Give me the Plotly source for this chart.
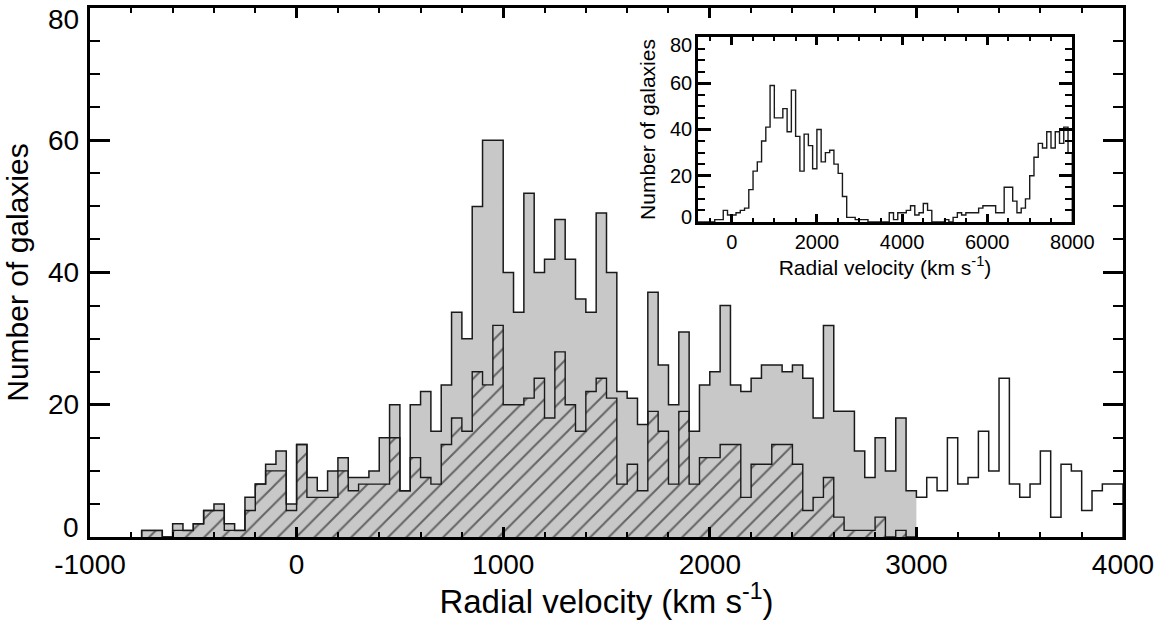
import plotly.graph_objects as go

# ---------------- data ----------------
main_start = -750      # left edge of first main bin (km/s)
main_width = 50        # main bin width (km/s)
total_counts = [1, 1, 0, 2, 1, 2, 4, 5, 2, 1,
                6, 8, 11, 13, 5, 14, 9, 7, 10, 12,
                9, 9, 10, 15, 20, 7, 20, 22, 16, 23,
                34, 30, 50, 60, 60, 40, 34, 52, 40, 42,
                48, 42, 36, 34, 49, 40, 22, 21, 17, 37,
                26, 20, 31, 16, 23, 25, 35, 23, 22, 24,
                26, 26, 25, 26, 24, 18, 32, 19, 19, 13,
                9, 15, 10, 18, 7, 6, 9, 7, 15, 8,
                9, 16, 10, 24, 8, 6, 8, 13, 3, 11,
                10, 4, 7, 8, 8]
gray_limit = 3000      # grey-filled part ends here
hatched_counts = [1, 1, 0, 1, 1, 2, 4, 4, 1, 1,
                  4, 8, 10, 10, 4, 14, 6, 6, 6, 10,
                  7, 8, 8, 8, 15, 7, 12, 9, 8, 14,
                  18, 16, 25, 23, 32, 20, 20, 21, 24, 18,
                  28, 20, 16, 22, 24, 21, 8, 11, 7, 19,
                  16, 8, 19, 8, 12, 12, 14, 14, 6, 11,
                  11, 14, 14, 11, 4, 6, 9, 3, 1, 1,
                  1, 3, 0, 1, 0]

inset_start = -800
inset_width = 100
inset_counts = [0, 0, 0, 0, 1, 1, 5, 3, 3, 4,
                5, 6, 14, 22, 26, 35, 41, 59, 45, 45,
                49, 39, 57, 37, 22, 38, 33, 23, 40, 26,
                30, 31, 25, 21, 11, 2, 2, 1, 1, 1,
                0, 0, 0, 0, 0, 4, 1, 4, 4, 5,
                7, 3, 4, 8, 5, 0, 0, 0, 1, 0,
                2, 4, 3, 4, 4, 4, 6, 7, 7, 7,
                4, 4, 15, 15, 9, 4, 6, 10, 20, 28,
                34, 32, 39, 32, 39, 34, 41, 30]

main_xticks = [-1000, 0, 1000, 2000, 3000, 4000]
main_xticktext = ["-1000", "0", "1000", "2000", "3000", "4000"]
main_yticks = [0, 20, 40, 60, 80]
inset_xticks = [0, 2000, 4000, 6000, 8000]
inset_xticktext = ["0", "2000", "4000", "6000", "8000"]
inset_yticks = [0, 20, 40, 60, 80]

x_title = "Radial velocity (km s<sup>-1</sup>)"
y_title = "Number of galaxies"


def step_xy(start, width, counts):
    edges = [start + i * width for i in range(len(counts) + 1)]
    xs = [edges[0]] + edges[1:] + [edges[-1]]
    ys = [0] + list(counts) + [0]
    return xs, ys


n_gray = int((gray_limit - main_start) / main_width)
gx, gy = step_xy(main_start, main_width, total_counts[:n_gray])
hx, hy = step_xy(main_start, main_width, hatched_counts)
tx, ty = step_xy(main_start, main_width, total_counts)
ix, iy = step_xy(inset_start, inset_width, inset_counts)

GRAY = "#c8c8c8"
LINE = "#1a1a1a"
FONT = "Liberation Sans, Arial, Helvetica, sans-serif"

INSET_X = [0.5883, 0.9509]
INSET_Y = [0.5955, 0.9452]

fig = go.Figure()
fig.add_trace(go.Scatter(x=gx, y=gy, mode="lines", line=dict(shape="vh", width=0),
                         fill="tozeroy", fillcolor=GRAY, hoverinfo="skip"))
fig.add_trace(go.Scatter(x=hx, y=hy, mode="lines", line=dict(shape="vh", width=1.4, color=LINE),
                         fill="tozeroy", fillcolor=GRAY,
                         fillpattern=dict(shape="/", size=13, solidity=0.15,
                                          fgcolor="black", bgcolor=GRAY),
                         hoverinfo="skip"))
fig.add_trace(go.Scatter(x=tx, y=ty, mode="lines", line=dict(shape="vh", width=1.5, color=LINE),
                         hoverinfo="skip"))
fig.add_trace(go.Scatter(x=ix, y=iy, mode="lines", line=dict(shape="vh", width=1.4, color=LINE),
                         xaxis="x2", yaxis="y2", hoverinfo="skip"))

axis_common = dict(showline=True, linecolor="black", linewidth=3, mirror="allticks",
                   ticks="inside", tickcolor="black", showgrid=False, zeroline=False,
                   automargin=False)

fig.update_layout(
    width=1158, height=620,
    margin=dict(l=90, r=35, t=8, b=83),
    paper_bgcolor="white", plot_bgcolor="white",
    showlegend=False,
    font=dict(family=FONT, color="black"),
    xaxis=dict(axis_common, range=[-1000, 4000], tickmode="array",
               tickvals=main_xticks, ticktext=main_xticktext,
               ticklen=10, tickwidth=3,
               minor=dict(tickmode="linear", tick0=-1000, dtick=200, ticklen=5, tickwidth=2,
                          ticks="inside", tickcolor="black"),
               tickfont=dict(size=28),
               title=dict(text=x_title, font=dict(size=33), standoff=5),
               domain=[0, 1]),
    yaxis=dict(axis_common, range=[0, 80], tickmode="linear", tick0=0, dtick=20,
               ticklen=20, tickwidth=3, showticklabels=False,
               minor=dict(tickmode="linear", tick0=0, dtick=5, ticklen=10, tickwidth=2,
                          ticks="inside", tickcolor="black"),
               title=dict(text=y_title, font=dict(size=30), standoff=50),
               domain=[0, 1]),
    xaxis2=dict(axis_common, anchor="y2", range=[-800, 8000], tickmode="array",
                tickvals=inset_xticks, ticktext=inset_xticktext,
                ticklen=8, tickwidth=3,
                minor=dict(tickmode="linear", tick0=0, dtick=500, ticklen=4, tickwidth=2,
                           ticks="inside", tickcolor="black"),
                tickfont=dict(size=20),
                title=dict(text=x_title, font=dict(size=21), standoff=2),
                domain=INSET_X),
    yaxis2=dict(axis_common, anchor="x2", range=[0, 80], tickmode="linear", tick0=0, dtick=20,
                ticklen=13, tickwidth=3, showticklabels=False,
                minor=dict(tickmode="linear", tick0=0, dtick=5, ticklen=7, tickwidth=2,
                           ticks="inside", tickcolor="black"),
                title=dict(text=y_title, font=dict(size=21), standoff=34),
                domain=INSET_Y),
)

# y tick labels (end labels nudged inward, as in the original)
annotations = []
for i, v in enumerate(main_yticks):
    shift = 10 if i == 0 else (-11 if i == len(main_yticks) - 1 else 0)
    annotations.append(dict(x=0, xref="paper", y=v, yref="y", text=str(v), showarrow=False,
                            xanchor="right", yanchor="middle", xshift=-9, yshift=shift,
                            font=dict(size=28, family=FONT, color="black")))
for i, v in enumerate(inset_yticks):
    shift = 5 if i == 0 else (-8 if i == len(inset_yticks) - 1 else 0)
    annotations.append(dict(x=INSET_X[0], xref="paper", y=v, yref="y2", text=str(v),
                            showarrow=False, xanchor="right", yanchor="middle",
                            xshift=-4, yshift=shift,
                            font=dict(size=20, family=FONT, color="black")))
fig.update_layout(annotations=annotations)

fig.write_html("out.html")
